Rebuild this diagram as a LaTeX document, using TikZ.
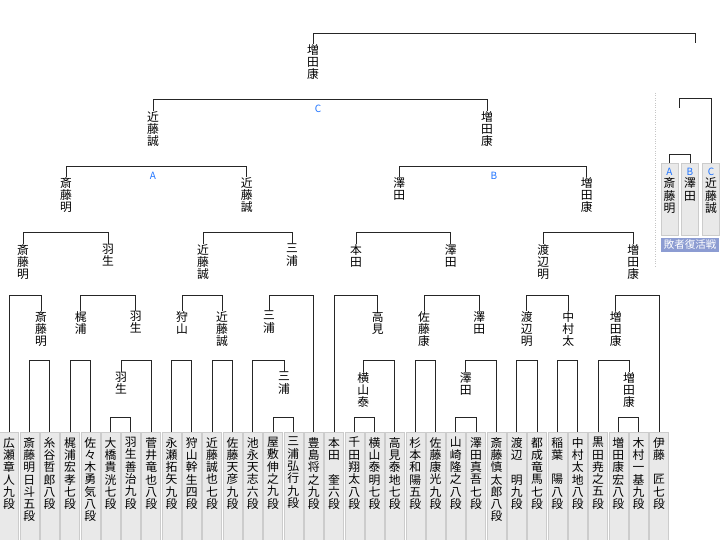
\documentclass[tikz,border=0pt]{standalone}
\usepackage{fontspec}
\newfontfamily\jp{Noto Sans CJK JP}
\definecolor{tagblue}{RGB}{30,115,255}
\definecolor{revivalbg}{RGB}{140,156,210}
\newcommand\pl[1]{\parbox[t][110pt][t]{19pt}{\centering\vspace*{5pt}#1}}
\newcommand\lpl[1]{\parbox[t][72pt][t]{17pt}{\centering\vspace*{5pt}#1}}
\newcommand\tagf{\color{tagblue}\fontsize{10}{10}\selectfont}
\tikzset{
  kishi/.style={anchor=north, align=center, inner sep=0pt, font=\jp\fontsize{11.8}{12.3}\selectfont},
  player/.style={draw=gray!40, fill=gray!17, inner sep=0pt, anchor=north, font=\jp\fontsize{11.8}{12.3}\selectfont},
  tag/.style={text=tagblue, inner sep=0pt, font=\jp\fontsize{10}{10}\selectfont},
  revival/.style={fill=revivalbg, text=white, minimum width=58pt, minimum height=14pt, inner sep=0pt, font=\jp\fontsize{10.5}{12}\selectfont},
  bracket/.style={draw=black!85, line width=0.8pt},
}
\begin{document}
\begin{tikzpicture}[x=1pt,y=-1pt]
\useasboundingbox (0,0) rectangle (720,540);
% players
\foreach \n [count=\i from 0] in {
  {広\\瀬\\章\\人\\九\\段}, {斎\\藤\\明\\日\\斗\\五\\段}, {糸\\谷\\哲\\郎\\八\\段},
  {梶\\浦\\宏\\孝\\七\\段}, {佐\\々\\木\\勇\\気\\八\\段}, {大\\橋\\貴\\洸\\七\\段},
  {羽\\生\\善\\治\\九\\段}, {菅\\井\\竜\\也\\八\\段}, {永\\瀬\\拓\\矢\\九\\段},
  {狩\\山\\幹\\生\\四\\段}, {近\\藤\\誠\\也\\七\\段}, {佐\\藤\\天\\彦\\九\\段},
  {池\\永\\天\\志\\六\\段}, {屋\\敷\\伸\\之\\九\\段}, {三\\浦\\弘\\行\\九\\段},
  {豊\\島\\将\\之\\九\\段}, {本\\田\\\mbox{}\\奎\\六\\段}, {千\\田\\翔\\太\\八\\段},
  {横\\山\\泰\\明\\七\\段}, {高\\見\\泰\\地\\七\\段}, {杉\\本\\和\\陽\\五\\段},
  {佐\\藤\\康\\光\\九\\段}, {山\\崎\\隆\\之\\八\\段}, {澤\\田\\真\\吾\\七\\段},
  {斎\\藤\\慎\\太\\郎\\八\\段}, {渡\\辺\\\mbox{}\\明\\九\\段}, {都\\成\\竜\\馬\\七\\段},
  {稲\\葉\\\mbox{}\\陽\\八\\段}, {中\\村\\太\\地\\八\\段}, {黒\\田\\尭\\之\\五\\段},
  {増\\田\\康\\宏\\八\\段}, {木\\村\\一\\基\\九\\段}, {伊\\藤\\\mbox{}\\匠\\七\\段}}
  \node[player] (p\i) at ({9+20.31*\i},432) {\pl{\n}};
% winners
\node[kishi] (t) at (313,44) {増\\田\\康};
\node[kishi] (a1) at (153,111) {近\\藤\\誠};
\node[kishi] (a2) at (487,111) {増\\田\\康};
\node[kishi] (b1) at (66,177) {斎\\藤\\明};
\node[kishi] (b2) at (246.7,177) {近\\藤\\誠};
\node[kishi] (b3) at (399.3,177) {澤\\田};
\node[kishi] (b4) at (586.7,177) {増\\田\\康};
\node[kishi] (c1) at (23,244) {斎\\藤\\明};
\node[kishi] (c2) at (108,244) {羽\\生};
\node[kishi] (c3) at (203,244) {近\\藤\\誠};
\node[kishi] (c4) at (292,244) {三\\浦};
\node[kishi] (c5) at (356,244) {本\\田};
\node[kishi] (c6) at (450.7,244) {澤\\田};
\node[kishi] (c7) at (543.3,244) {渡\\辺\\明};
\node[kishi] (c8) at (633.3,244) {増\\田\\康};
\node[kishi] (d1) at (41,311) {斎\\藤\\明};
\node[kishi] (d2) at (80.7,311) {梶\\浦};
\node[kishi] (d3) at (135.7,311) {羽\\生};
\node[kishi] (d4) at (182,311) {狩\\山};
\node[kishi] (d5) at (222,311) {近\\藤\\誠};
\node[kishi] (d6) at (269,311) {三\\浦};
\node[kishi] (d7) at (377.7,311) {高\\見};
\node[kishi] (d8) at (424,311) {佐\\藤\\康};
\node[kishi] (d9) at (479.3,311) {澤\\田};
\node[kishi] (d10) at (526.7,311) {渡\\辺\\明};
\node[kishi] (d11) at (568.3,311) {中\\村\\太};
\node[kishi] (d12) at (615.7,311) {増\\田\\康};
\node[kishi] (e1) at (121,372) {羽\\生};
\node[kishi] (e2) at (284,372) {三\\浦};
\node[kishi] (e3) at (363.3,372) {横\\山\\泰};
\node[kishi] (e4) at (465.7,372) {澤\\田};
\node[kishi] (e5) at (629,372) {増\\田\\康};
\node[tag] (tC) at (318,109) {C};
\node[tag] (tA) at (153,175.5) {A};
\node[tag] (tB) at (494,175.5) {B};
% loser's bracket
\draw[gray!45, dotted] (655,93) -- (655,268);
\node[player] (lA) at (669.5,163) {\lpl{{\tagf A}\\斎\\藤\\明}};
\node[player] (lB) at (690,163) {\lpl{{\tagf B}\\澤\\田}};
\node[player] (lC) at (711,163) {\lpl{{\tagf C}\\近\\藤\\誠}};
\node[revival] (fk) at (690,245) {敗者復活戦};
\coordinate (lb) at (695,43);
\coordinate (lw) at (679.5,108);
% matches
\draw[bracket] (t.north) -- (t.north |- 0,33) -| (lb);
\draw[bracket] (lw) -- (lw |- 0,98) -| (lC.north);
\foreach \a/\b/\y in {a1/a2/99, b1/b2/166, b3/b4/166,
  c1/c2/232, c3/c4/232, c5/c6/232, c7/c8/232,
  p0/d1/295, d2/d3/295, d4/d5/295, d6/p15/295, p16/d7/295, d8/d9/295, d10/d11/295, d12/p32/295,
  p1/p2/360, p3/p4/360, e1/p7/360, p8/p9/360, p10/p11/360, p12/e2/360,
  e3/p19/360, p20/p21/360, e4/p24/360, p25/p26/360, p27/p28/360, p29/e5/360,
  p5/p6/417, p13/p14/417, p17/p18/417, p22/p23/417, p30/p31/417, lA/lB/154}
  \draw[bracket] (\a.north) -- (\a.north |- 0,\y) -| (\b.north);
\end{tikzpicture}
\end{document}
